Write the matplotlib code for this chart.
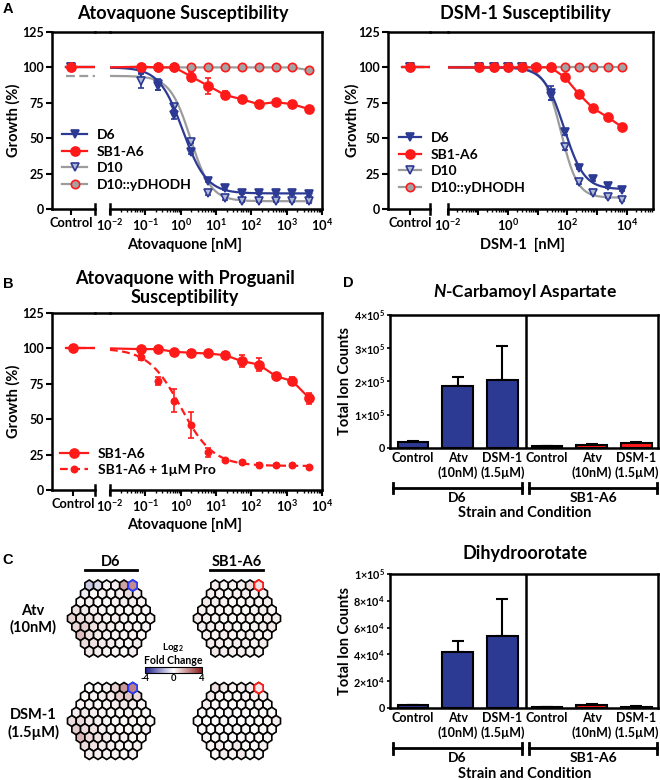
import numpy as np
import matplotlib
matplotlib.use('Agg')
import matplotlib.pyplot as plt
from matplotlib.lines import Line2D
from matplotlib.patches import Polygon
from matplotlib.colors import LinearSegmentedColormap, Normalize
from matplotlib.colorbar import ColorbarBase
from matplotlib.ticker import LogLocator, NullFormatter, FixedLocator, FixedFormatter

plt.rcParams['font.family'] = ['Lato', 'DejaVu Sans']
plt.rcParams['font.weight'] = 'bold'
plt.rcParams['mathtext.fontset'] = 'custom'
plt.rcParams['mathtext.rm'] = 'Lato:bold'
plt.rcParams['mathtext.bf'] = 'Lato:bold'
plt.rcParams['mathtext.it'] = 'Lato:bold:italic'
plt.rcParams['mathtext.default'] = 'bf'

# ---------------- data ----------------
growth_ticks = [0, 25, 50, 75, 100, 125]

# Panel A (left): atovaquone, 3-fold dilutions (nM)
atv_conc = [0.074, 0.222, 0.667, 2.0, 6.0, 18.0, 54.0, 162.0, 486.0, 1458.0, 4374.0]
atv_ctrl = [100, 100, 100, 100]          # D6, SB1-A6, D10, D10::yDHODH
atv_d6 = [97, 87, 66.5, 40.5, 20, 14.5, 11.5, 11.5, 11, 11, 10.5]
atv_d6_err = [1, 3, 3, 2, 1, 1, 1, 1, 1, 1, 1]
atv_sb1 = [100.5, 100, 100, 93.5, 87, 80.5, 77.5, 74, 75.5, 74, 70.5]
atv_sb1_err = [1, 0.5, 0.5, 3, 5.5, 3, 1, 2.5, 1, 2.5, 1]
atv_d10 = [90.5, 88, 72, 47.5, 11, 7.5, 6, 6, 6, 6, 5.5]
atv_d10_err = [5, 4, 2, 1, 1, 1, 1, 1, 1, 1, 1]
atv_yd = [100, 100, 100, 100, 100, 100, 100, 100, 100, 100, 98]
# 4PL fit parameters: top, bottom, IC50 (nM), Hill
atv_fit_d6 = [100, 11, 1.15, 1.3]
atv_fit_d10 = [94, 5.5, 1.9, 1.5]

# Panel A (right): DSM-1
dsm_conc = [0.113, 0.339, 1.02, 3.05, 9.15, 27.4, 82.3, 247, 741, 2222, 6667]
dsm_ctrl = [100, 100, 100, 100]
dsm_d6 = [100, 100, 100, 100, 99, 82, 54.5, 29, 21, 16, 13.5]
dsm_d6_err = [0.5, 0.5, 0.5, 0.5, 1, 5, 2, 1, 1, 1, 1]
dsm_sb1 = [100, 100, 100, 100, 100, 100, 93, 81, 71, 65, 58]
dsm_sb1_err = [0.5, 0.5, 0.5, 0.5, 0.5, 0.5, 1, 1, 1, 1, 1]
dsm_d10 = [100, 100, 100, 100, 99, 80, 43.5, 19, 11.5, 8.5, 6.5]
dsm_d10_err = [0.5, 0.5, 0.5, 0.5, 1, 3, 2, 1, 1, 1, 1]
dsm_yd = [100, 100, 100, 100, 100, 100, 100, 100, 100, 100, 100]
dsm_fit_d6 = [100, 14, 78, 1.3]
dsm_fit_d10 = [100, 8, 62, 1.58]

# Panel B: atovaquone +/- proguanil on SB1-A6
pro_ctrl = [100, 100]
b_sb1 = [99.5, 99.5, 97.6, 96.9, 96.4, 95.2, 91, 88.6, 80.5, 76.9, 64.8]
b_sb1_err = [1, 1, 1.5, 2, 2, 2, 4, 4.5, 2, 3, 4]
b_pro = [94, 77, 63, 46, 26.5, 21, 19.5, 18, 17.5, 17.5, 16]
b_pro_err = [2, 2.5, 8, 9, 3, 1, 1, 1, 1, 1, 1]
b_fit_pro = [100, 17, 1.0, 0.95]

# Panel C: log2 fold change maps (rows of 6,7,8,9,10,9,8,7,6)
d6_atv = [[-1.0, -0.6, 0.2, 0.3, 1.6, 2.0],
          [-0.3, 0.1, 0.2, 0.1, 0.3, 0.6, 0.3],
          [0.2, 0.3, 0.1, 0.1, 0.2, 0.3, 0.3, 0.2],
          [0.5, 0.4, 0.3, 0.2, 0.1, 0.2, 0.1, 0.2, 0.1],
          [0.8, 0.6, 0.5, 0.3, 0.2, 0.3, 0.2, 0.1, 0.1, 0.2],
          [0.7, 0.9, 0.5, 0.4, 0.3, 0.2, 0.2, 0.1, 0.2],
          [1.2, 0.6, 0.4, 0.3, 0.2, 0.2, 0.2, 0.1],
          [0.6, 0.5, 0.4, 0.3, 0.2, 0.1, 0.3],
          [0.4, 0.3, 0.2, 0.2, 0.1, 0.3]]
d6_dsm = [[0.0, 0.1, 0.3, 0.8, 1.8, 2.2],
          [0.1, 0.2, 0.3, 0.4, 0.9, 1.0, 0.6],
          [0.2, 0.2, 0.1, 0.2, 0.3, 0.4, 0.3, 0.2],
          [0.3, 0.4, 0.3, 0.2, 0.1, 0.1, 0.2, 0.1, 0.1],
          [0.6, 0.7, 0.4, 0.3, 0.2, 0.1, 0.1, 0.2, 0.1, 0.1],
          [0.9, 0.6, 0.5, 0.3, 0.2, 0.1, 0.1, 0.1, 0.2],
          [1.3, 0.7, 0.5, 0.4, 0.2, 0.2, 0.1, 0.1],
          [0.6, 0.5, 0.4, 0.3, 0.2, 0.1, 0.2],
          [0.3, 0.3, 0.2, 0.2, 0.1, 0.2]]
sb1_atv = [[0.3, 0.2, 0.2, 0.3, 0.6, 0.5],
           [0.3, 0.2, 0.1, 0.2, 0.3, 0.2, 0.2],
           [0.4, 0.3, 0.2, 0.1, 0.1, 0.2, 0.2, 0.3],
           [0.3, 0.2, 0.2, 0.1, 0.1, 0.1, 0.2, 0.3, 0.2],
           [0.4, 0.3, 0.2, 0.1, 0.1, 0.1, 0.2, 0.2, 0.3, 0.3],
           [0.3, 0.3, 0.2, 0.2, 0.1, 0.1, 0.2, 0.3, 0.4],
           [0.3, 0.2, 0.3, 0.2, 0.2, 0.3, 0.2, 0.2],
           [0.3, 0.3, 0.2, 0.3, 0.3, 0.2, 0.3],
           [0.4, 0.3, 0.3, 0.3, 0.2, 0.2]]
sb1_dsm = [[0.5, 0.4, 0.2, 0.3, 0.3, 0.4],
           [0.4, 0.2, 0.1, 0.1, 0.2, 0.2, 0.2],
           [0.3, 0.1, 0.0, 0.1, 0.1, 0.1, 0.2, 0.1],
           [0.1, 0.0, 0.0, -0.1, 0.0, 0.1, 0.1, 0.1, 0.1],
           [0.1, 0.0, 0.0, -0.1, -0.1, 0.0, 0.0, 0.1, 0.1, 0.3],
           [0.1, 0.0, -0.1, 0.0, 0.0, -0.1, 0.0, 0.1, 0.1],
           [0.2, 0.1, 0.0, 0.0, 0.1, 0.0, 0.1, 0.1],
           [0.2, 0.3, 0.1, 0.4, 0.1, 0.1, 0.2],
           [0.1, 0.3, 0.2, 0.4, 0.1, 0.1]]

# Panel D: metabolite total ion counts
bar_conditions = ['Control', 'Atv\n(10nM)', 'DSM-1\n(1.5µM)', 'Control', 'Atv\n(10nM)', 'DSM-1\n(1.5µM)']
strains = ['D6', 'SB1-A6']
nca_mean = [18000, 186000, 204000, 6000, 10000, 15000]
nca_err = [2000, 28000, 103000, 1000, 2000, 2000]
dho_mean = [2200, 41800, 53500, 600, 2000, 1000]
dho_err = [300, 8200, 27500, 100, 700, 300]
nca_ticks = [0, 1e5, 2e5, 3e5, 4e5]
nca_ticklabels = ['0', r'$1{\times}10^5$', r'$2{\times}10^5$', r'$3{\times}10^5$', r'$4{\times}10^5$']
dho_ticks = [0, 2e4, 4e4, 6e4, 8e4, 1e5]
dho_ticklabels = ['0', r'$2{\times}10^4$', r'$4{\times}10^4$', r'$6{\times}10^4$', r'$8{\times}10^4$', r'$1{\times}10^5$']

# ---------------- styles ----------------
BLUE = '#2c3a94'
RED = '#ff1a1a'
GREY = '#9c9c9c'
D10FILL = '#b3bad6'
YDFILL = '#a3a3a3'
LW_SP = 1.8
TITLE_FS = 13
LABEL_FS = 10.5
LEG_FS = 10

W, H = 660, 780
fig = plt.figure(figsize=(W / 100, H / 100), dpi=100)


def ax_px(x0, y0, x1, y1):
    return fig.add_axes([x0 / W, 1 - y1 / H, (x1 - x0) / W, (y1 - y0) / H])


def ftext(x, y, s, **kw):
    kw.setdefault('ha', 'center')
    kw.setdefault('va', 'center')
    return fig.text(x / W, 1 - y / H, s, **kw)


def four_pl(c, p):
    top, bottom, ic50, hill = p
    return bottom + (top - bottom) / (1 + (c / ic50) ** hill)


def dr_axes(xc0, xc1, xm0, xm1, yt, yb, xhi, ctrl_pos, major_labels):
    axc = ax_px(xc0, yt, xc1, yb)
    axm = ax_px(xm0, yt, xm1, yb)
    for a in (axc, axm):
        a.set_ylim(0, 125)
        a.patch.set_visible(False)
        for s in a.spines.values():
            s.set_linewidth(LW_SP)
        a.tick_params(which='major', direction='out', length=4, width=1.5, labelsize=9.3, pad=2)
        a.tick_params(which='minor', direction='out', length=2, width=1.0)
    axc.spines['right'].set_visible(False)
    axm.spines['left'].set_visible(False)
    axc.set_xlim(0, 1)
    axc.set_xticks([ctrl_pos])
    axc.set_xticklabels(['Control'])
    axc.set_yticks(growth_ticks)
    axc.tick_params(axis='y', labelsize=9)
    axm.set_xscale('log')
    axm.set_xlim(1e-2, xhi)
    axm.set_yticks([])
    axm.tick_params(axis='y', which='both', left=False, labelleft=False)
    decs = 10.0 ** np.arange(-2, 5)
    axm.xaxis.set_major_locator(FixedLocator(decs))
    axm.xaxis.set_major_formatter(FixedFormatter(major_labels))
    axm.xaxis.set_minor_locator(LogLocator(base=10, subs=np.arange(2, 10), numticks=60))
    axm.xaxis.set_minor_formatter(NullFormatter())
    # continuous top border and break bars
    fig.add_artist(Line2D([xc1 / W, xm0 / W], [1 - yt / H] * 2, color='k', lw=LW_SP))
    axc.plot([1, 1], [-0.03, 0.03], transform=axc.get_xaxis_transform(), clip_on=False, color='k', lw=LW_SP)
    axm.plot([1e-2, 1e-2], [-0.03, 0.03], transform=axm.get_xaxis_transform(), clip_on=False, color='k', lw=LW_SP)
    return axc, axm


def draw_series(axc, axm, ctrl_pos, conc, vals, err, ctrl_val, color, marker, mfc, mec, ms,
                ls='-', fit=None, zo=3, ctrl_ls=None):
    conc = np.asarray(conc, dtype=float)
    vals = np.asarray(vals, dtype=float)
    if fit is not None:
        xs = np.logspace(-2, np.log10(conc[-1] * 1.15), 400)
        axm.plot(xs, four_pl(xs, fit), color=color, lw=1.6, ls=ls, zorder=zo)
        top = fit[0]
    else:
        xs = np.concatenate([[1e-2], conc])
        ys = np.concatenate([[ctrl_val], vals])
        axm.plot(xs, ys, color=color, lw=1.6, ls=ls, zorder=zo)
        top = ctrl_val
    axc.plot([0.33, 1.0], [top, top], color=color, lw=1.6, ls=ctrl_ls or ls, zorder=zo)
    if err is not None:
        axm.errorbar(conc, vals, yerr=err, fmt='none', ecolor=mec, elinewidth=1.2,
                     capsize=2, capthick=1.2, zorder=zo)
    axm.plot(conc, vals, ls='none', marker=marker, ms=ms, mfc=mfc, mec=mec, mew=1.2,
             zorder=zo + 0.5, clip_on=False)
    axc.plot([ctrl_pos], [ctrl_val], ls='none', marker=marker, ms=ms, mfc=mfc, mec=mec,
             mew=1.2, zorder=zo + 0.5, clip_on=False)


def handle(color, marker, mfc, mec, ms, ls='-'):
    return Line2D([], [], color=color, lw=1.6, ls=ls, marker=marker, ms=ms, mfc=mfc, mec=mec, mew=1.2)


lab_all = [r'$10^{-2}$', r'$10^{-1}$', r'$10^{0}$', r'$10^{1}$', r'$10^{2}$', r'$10^{3}$', r'$10^{4}$']
lab_even = [r'$10^{-2}$', '', r'$10^{0}$', '', r'$10^{2}$', '', r'$10^{4}$']
leg_kw = dict(frameon=False, fontsize=LEG_FS, handletextpad=0.7, labelspacing=0.32,
              borderpad=0, borderaxespad=0, loc='center left')

# ---------- Panel A left ----------
axc, axm = dr_axes(52, 95, 110, 322, 32, 209, 1e4, 0.44, lab_all)
draw_series(axc, axm, 0.44, atv_conc, atv_yd, None, atv_ctrl[3], GREY, 'o', YDFILL, RED, 6, zo=2)
draw_series(axc, axm, 0.44, atv_conc, atv_d10, atv_d10_err, atv_ctrl[2], GREY, 'v', D10FILL, BLUE, 6,
            fit=atv_fit_d10, zo=3, ctrl_ls=(0, (4, 2)))
draw_series(axc, axm, 0.44, atv_conc, atv_d6, atv_d6_err, atv_ctrl[0], BLUE, 'v', BLUE, BLUE, 6,
            fit=atv_fit_d6, zo=4)
draw_series(axc, axm, 0.44, atv_conc, atv_sb1, atv_sb1_err, atv_ctrl[1], RED, 'o', RED, RED, 6.5, zo=5)

legA = [handle(BLUE, 'v', BLUE, BLUE, 6), handle(RED, 'o', RED, RED, 6.5),
        handle(GREY, 'v', D10FILL, BLUE, 6), handle(GREY, 'o', YDFILL, RED, 6)]
labA = ['D6', 'SB1-A6', 'D10', 'D10::yDHODH']
fig.legend(legA, labA, bbox_to_anchor=(62 / W, 1 - 160 / H), handlelength=1.8, **leg_kw)

# ---------- Panel A right ----------
axc2, axm2 = dr_axes(388, 430, 448, 653, 32, 209, 10 ** 4.87, 0.52, lab_even)
draw_series(axc2, axm2, 0.52, dsm_conc, dsm_yd, None, dsm_ctrl[3], GREY, 'o', YDFILL, RED, 6, zo=2)
draw_series(axc2, axm2, 0.52, dsm_conc, dsm_d10, dsm_d10_err, dsm_ctrl[2], GREY, 'v', D10FILL, BLUE, 6,
            fit=dsm_fit_d10, zo=3, ctrl_ls=(0, (4, 2)))
draw_series(axc2, axm2, 0.52, dsm_conc, dsm_d6, dsm_d6_err, dsm_ctrl[0], BLUE, 'v', BLUE, BLUE, 6,
            fit=dsm_fit_d6, zo=4, ctrl_ls=(0, (4, 2)))
draw_series(axc2, axm2, 0.52, dsm_conc, dsm_sb1, dsm_sb1_err, dsm_ctrl[1], RED, 'o', RED, RED, 6.5, zo=5)
fig.legend(legA, labA, bbox_to_anchor=(399 / W, 1 - 163 / H), handlelength=1.6, **leg_kw)

# ---------- Panel B ----------
axc3, axm3 = dr_axes(52, 95, 110, 322, 313, 490, 1e4, 0.49, lab_all)
draw_series(axc3, axm3, 0.49, atv_conc, b_pro, b_pro_err, pro_ctrl[1], RED, 'o', RED, RED, 4.5,
            ls=(0, (3.5, 2)), fit=b_fit_pro, zo=3)
draw_series(axc3, axm3, 0.49, atv_conc, b_sb1, b_sb1_err, pro_ctrl[0], RED, 'o', RED, RED, 6.5, zo=4)
legB = [handle(RED, 'o', RED, RED, 6.5), handle(RED, 'o', RED, RED, 4.5, ls=(0, (3.5, 2)))]
fig.legend(legB, ['SB1-A6', 'SB1-A6 + 1µM Pro'], bbox_to_anchor=(60 / W, 1 - 462 / H),
           handlelength=2.0, **leg_kw)

# ---------- Panel C (hex maps) ----------
cmap = LinearSegmentedColormap.from_list('bwr2', ['#1c1c8a', '#ffffff', '#8a1a1a'])
norm = Normalize(-4, 4)
axh = fig.add_axes([0, 0, 340 / W, 240 / H])
axh.set_xlim(0, 340)
axh.set_ylim(780, 540)
axh.axis('off')
HEX_W = 8.7
HEX_DY = 8.25
HEX_H = HEX_DY * 4 / 3
hex_shape = [(0, -HEX_H / 2), (HEX_W / 2, -HEX_H / 4), (HEX_W / 2, HEX_H / 4),
             (0, HEX_H / 2), (-HEX_W / 2, HEX_H / 4), (-HEX_W / 2, -HEX_H / 4)]


def draw_hexmap(cx, cy, rows, hi_color):
    nrows = len(rows)
    hi = None
    for r, row in enumerate(rows):
        n = len(row)
        y = cy + (r - (nrows - 1) / 2) * HEX_DY
        for i, v in enumerate(row):
            x = cx + (i - (n - 1) / 2) * HEX_W
            verts = [(x + dx, y + dy) for dx, dy in hex_shape]
            axh.add_patch(Polygon(verts, closed=True, facecolor=cmap(norm(v)), edgecolor='k',
                                  lw=1.2, zorder=2))
            if r == 0 and i == n - 1:
                hi = (verts, v)
    axh.add_patch(Polygon(hi[0], closed=True, facecolor=cmap(norm(hi[1])), edgecolor=hi_color,
                          lw=1.3, zorder=3))


draw_hexmap(111, 618.5, d6_atv, '#2a3cff')
draw_hexmap(237, 618.5, sb1_atv, '#ff1a1a')
draw_hexmap(111, 721, d6_dsm, '#2a3cff')
draw_hexmap(237, 721, sb1_dsm, '#ff1a1a')

ftext(111, 562, strains[0], fontsize=10.5)
ftext(237, 562, strains[1], fontsize=10.5)
fig.add_artist(Line2D([85 / W, 137 / W], [1 - 570 / H] * 2, color='k', lw=2))
fig.add_artist(Line2D([210 / W, 263 / W], [1 - 570 / H] * 2, color='k', lw=2))
ftext(33, 619, 'Atv\n(10nM)', fontsize=10.5, linespacing=1.2)
ftext(33, 724, 'DSM-1\n(1.5µM)', fontsize=10.5, linespacing=1.2)

cax = fig.add_axes([145 / W, 1 - 673 / H, 57 / W, 6 / H])
cb = ColorbarBase(cax, cmap=cmap, norm=norm, orientation='horizontal', ticks=[-4, 0, 4])
cb.outline.set_linewidth(0.8)
cax.tick_params(length=0, labelsize=6.8, pad=0.5)
cax.set_xticklabels(['-4', '0', '4'])
ftext(173, 648, r'Log$_{2}$', fontsize=7.2)
ftext(173, 660, 'Fold Change', fontsize=7.6)

# ---------- Panel D ----------
BAR_COLORS = [BLUE, BLUE, BLUE, RED, RED, RED]


def bar_panel(y0, y1, means, errs, yticks, ylabels):
    ax = ax_px(390, y0, 658, y1)
    pos = np.arange(len(means))
    ax.errorbar(pos, means, yerr=[np.zeros(len(errs)), errs], fmt='none', ecolor='k',
                elinewidth=1.5, capsize=4.5, capthick=1.5, zorder=1)
    ax.bar(pos, means, width=0.68, color=BAR_COLORS, edgecolor='k', linewidth=1.5, zorder=2)
    ax.set_xlim(-0.515, 5.485)
    ax.set_ylim(yticks[0], yticks[-1])
    ax.axvline(2.53, color='k', lw=LW_SP)
    for s in ax.spines.values():
        s.set_linewidth(LW_SP)
    ax.set_yticks(yticks)
    ax.set_yticklabels(ylabels)
    ax.set_xticks(pos)
    ax.set_xticklabels(bar_conditions, linespacing=1.2)
    ax.tick_params(axis='x', length=0, labelsize=9, pad=3)
    ax.tick_params(axis='y', length=2.5, width=1.2, labelsize=7.8, pad=1)
    tr = ax.get_xaxis_transform()
    for (a, b), name in zip([(-0.45, 2.44), (2.6, 5.47)], strains):
        ax.plot([a, b], [-0.30, -0.30], transform=tr, clip_on=False, color='k', lw=2)
        for xx in (a, b):
            ax.plot([xx, xx], [-0.34, -0.26], transform=tr, clip_on=False, color='k', lw=2)
        ax.text((a + b) / 2, -0.375, name, transform=tr, ha='center', va='center', fontsize=10)
    ax.text(2.5, -0.49, 'Strain and Condition', transform=tr, ha='center', va='center',
            fontsize=LABEL_FS)
    return ax


bar_panel(315, 448, nca_mean, nca_err, nca_ticks, nca_ticklabels)
bar_panel(574, 708, dho_mean, dho_err, dho_ticks, dho_ticklabels)

# ---------- titles & labels ----------
ftext(183, 13, 'Atovaquone Susceptibility', fontsize=TITLE_FS)
ftext(525, 13, 'DSM-1 Susceptibility', fontsize=TITLE_FS)
ftext(185, 278, 'Atovaquone with Proguanil', fontsize=TITLE_FS)
ftext(185, 298, 'Susceptibility', fontsize=TITLE_FS)
ftext(525, 292, r'$\mathit{N}$-Carbamoyl Aspartate', fontsize=TITLE_FS - 0.5)
ftext(525, 553, 'Dihydroorotate', fontsize=TITLE_FS)

ftext(185, 245, 'Atovaquone [nM]', fontsize=LABEL_FS)
ftext(522, 245, 'DSM-1  [nM]', fontsize=LABEL_FS)
ftext(185, 525, 'Atovaquone [nM]', fontsize=LABEL_FS)
ftext(13, 120, 'Growth (%)', fontsize=LABEL_FS, rotation=90)
ftext(352, 120, 'Growth (%)', fontsize=LABEL_FS, rotation=90)
ftext(13, 401, 'Growth (%)', fontsize=LABEL_FS, rotation=90)
ftext(345, 381, 'Total Ion Counts', fontsize=LABEL_FS, rotation=90)
ftext(345, 641, 'Total Ion Counts', fontsize=LABEL_FS, rotation=90)

for s, x, y in [('A', 8, 9), ('B', 8, 284), ('C', 8, 560), ('D', 348, 283)]:
    ftext(x, y, s, fontsize=10.5, family=['Liberation Sans', 'DejaVu Sans'])

fig.savefig('out.png', dpi=100)
